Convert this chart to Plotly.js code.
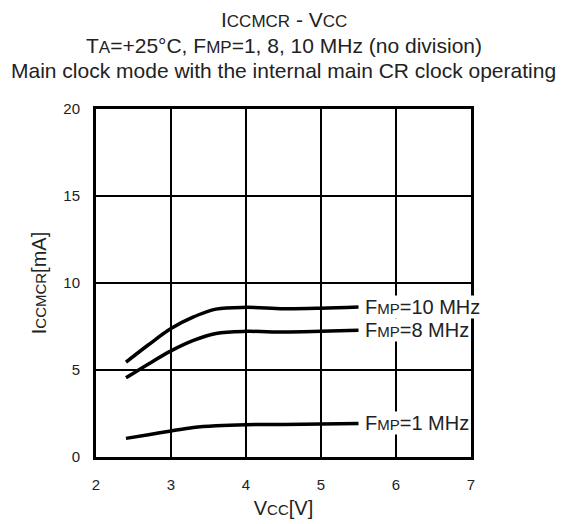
<!DOCTYPE html>
<html><head><meta charset="utf-8">
<script src="https://cdn.plot.ly/plotly-3.0.1.min.js"></script>
<style>html,body{margin:0;padding:0;background:#fff}#c{width:562px;height:524px}</style>
</head><body><div id="c"></div>
<script>
const vcc = [2.4, 2.7, 3.0, 3.3, 3.6, 4.0, 4.5, 5.0, 5.5];
const f10 = [5.45, 6.45, 7.38, 8.05, 8.5, 8.6, 8.52, 8.55, 8.62];
const f8  = [4.55, 5.35, 6.1, 6.7, 7.1, 7.22, 7.18, 7.22, 7.28];
const f1  = [1.07, 1.28, 1.5, 1.7, 1.8, 1.86, 1.87, 1.89, 1.93];
const labels = ['F<span style="font-size:15px">MP</span>=10 MHz','F<span style="font-size:15px">MP</span>=8 MHz','F<span style="font-size:15px">MP</span>=1 MHz'];
const titleLines = [
  'I<span style="font-size:17px">CCMCR</span> - V<span style="font-size:17px">CC</span>',
  'T<span style="font-size:17px">A</span>=+25°C, F<span style="font-size:17px">MP</span>=1, 8, 10 MHz (no division)',
  'Main clock mode with the internal main CR clock operating'
];
const xTicks = [2,3,4,5,6,7];
const yTicks = [0,5,10,15,20];

const FONT = 'Liberation Sans, Arial, sans-serif';
const line = {color:'#000', width:3.5, shape:'spline'};
const series=[f10,f8,f1];
const data = series.map(y=>({x:vcc,y:y,mode:'lines',line:line,hoverinfo:'none',showlegend:false}));
const annotations = labels.map((t,i)=>({x:vcc[vcc.length-1],y:series[i][series[i].length-1],xref:'x',yref:'y',text:t,showarrow:false,xanchor:'left',yanchor:'middle',xshift:5,bgcolor:'#fff',borderpad:0,font:{family:FONT,size:20,color:'#222'}}));
const plotTop=109, plotBottom=457, titleCenters=[19,45,70];
titleLines.forEach((t,i)=>annotations.push({xref:'paper',yref:'paper',x:0.5,xanchor:'center',y:(plotBottom-titleCenters[i])/(plotBottom-plotTop),yanchor:'middle',text:t,showarrow:false,font:{family:FONT,size:21,color:'#222'}}));
const layout = {
  width:562,height:524,
  margin:{l:96,r:91,t:109,b:67},
  paper_bgcolor:'#fff',plot_bgcolor:'#fff',
  font:{family:FONT,color:'#222'},
  xaxis:{range:[2,7],tickvals:xTicks,ticktext:xTicks.map(String),showgrid:true,gridcolor:'#000',gridwidth:2.2,zeroline:false,showline:true,linecolor:'#000',linewidth:3,mirror:true,ticks:'',tickfont:{size:15},ticklabelstandoff:12,
    title:{text:'V<span style="font-size:15px">CC</span>[V]',font:{size:20},standoff:9}},
  yaxis:{range:[0,20],tickvals:yTicks,ticktext:yTicks.map(String),showgrid:true,gridcolor:'#000',gridwidth:2.2,zeroline:false,showline:true,linecolor:'#000',linewidth:3,mirror:true,ticks:'',tickfont:{size:15},ticklabelstandoff:10,
    title:{text:'I<span style="font-size:15px">CCMCR</span>[mA]',font:{size:20},standoff:12}},
  annotations:annotations
};
Plotly.newPlot('c',data,layout,{displayModeBar:false,staticPlot:true});
</script></body></html>
